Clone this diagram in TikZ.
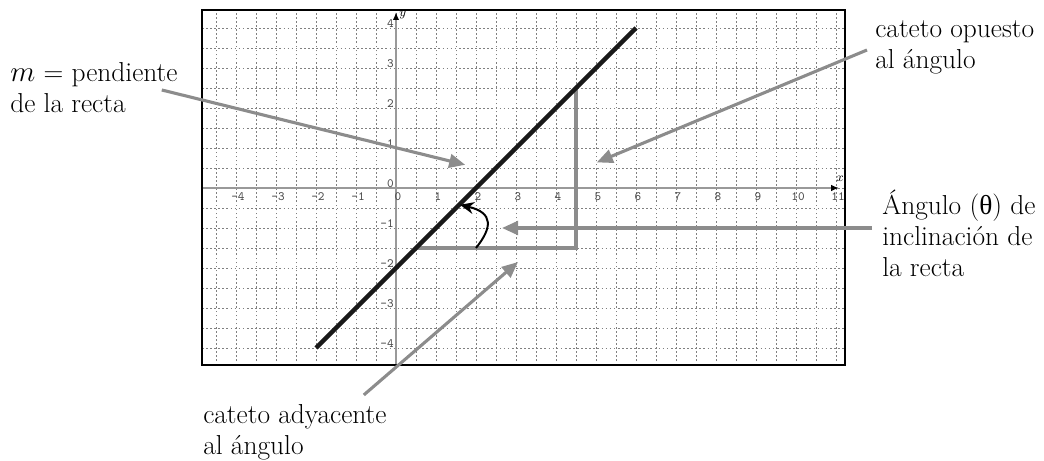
\documentclass[tikz,border=0pt]{standalone}
\usepackage{fontspec}
\newfontfamily\greekfont{Liberation Serif}
\usetikzlibrary{arrows.meta}

\begin{document}
\begin{tikzpicture}[
        griddot/.style={black!50, line width=0.55pt, dash pattern=on 1.2pt off 1.7pt},
        eje/.style={black!40, line width=1.3pt, -{Latex[black, length=2mm, width=1.6mm]}},
        cateto/.style={black!45, line width=2.2pt},
        recta/.style={black!90, line width=3.2pt},
        pointer/.style={black!45, line width=2.2pt, -{Triangle[length=4mm, width=3.4mm]}},
        callout/.style={font=\fontsize{19.5}{22}\selectfont, align=left, inner sep=0pt, anchor=west},
        ticklabel/.style={font=\fontsize{9}{9}\ttfamily, text=black!70, inner sep=0pt},
        axislabel/.style={font=\fontsize{9}{9}\selectfont, inner sep=0pt}
        ]
      \useasboundingbox (-9.9,-6.825) rectangle (16.2,4.7);
      \draw[griddot, step=0.5] (-4.85,-4.43) grid (11.22,4.45);
      \draw[eje] (-4.85,0) -- (11.08,0);
      \draw[eje] (0,-4.43) -- (0,4.4);
      \draw[black, line width=1pt] (-4.85,-4.43) rectangle (11.22,4.45);
      \foreach \k in {-4,...,11}
        \node[ticklabel] (x\k) at (\k+0.05,-0.22) {\k};
      \foreach \k in {0,...,4}
        \node[ticklabel, anchor=east] (y\k) at (-0.05,\k+0.12) {\k};
      \foreach \k in {-4,...,-1}
        \node[ticklabel, anchor=east] (y\k) at (-0.05,\k+0.1) {\k};
      \node[axislabel] (xlab) at (11.1,0.22) {$x$};
      \node[axislabel] (ylab) at (0.17,4.33) {$y$};
      \coordinate (A) at (0.5,-1.5);
      \coordinate (B) at (4.5,-1.5);
      \coordinate (C) at (4.5,2.5);
      \coordinate (L1) at (-2,-4);
      \coordinate (L2) at (6,4);
      \coordinate (arco0) at (2,-1.5);
      \coordinate (arco1) at (1.6,-0.42);
      \draw[cateto] (A) -- (B) -- (C);
      \draw[recta] (L1) -- (L2);
      \draw[black, line width=1.4pt, -{Stealth[length=3.5mm, width=3mm]}] (arco0) .. controls (2.4,-1.0) and (2.45,-0.62) .. (arco1);
      \node[callout] (pend) at (-9.65,2.5) {$m$ = pendiente\\de la recta};
      \node[callout] (opuesto) at (11.975,3.525) {cateto opuesto\\al ángulo};
      \node[callout] (angulo) at (12.15,-1.125) {Ángulo ({\greekfont θ}) de\\inclinación de\\la recta};
      \node[callout] (adyacente) at (-4.825,-6.1) {cateto adyacente\\al ángulo};
      \coordinate (pt1) at (1.73,0.58);
      \coordinate (pt2) at (5.02,0.64);
      \coordinate (pt3) at (2.65,-1.0);
      \coordinate (pt4) at (3.05,-1.85);
      \draw[pointer] ([xshift=-4mm, yshift=-0.5mm]pend.east) -- (pt1);
      \draw[pointer] ([xshift=-2mm, yshift=-0.75mm]opuesto.west) -- (pt2);
      \draw[pointer] ([xshift=-2.5mm]angulo.west |- pt3) -- (pt3);
      \draw[pointer] ([xshift=-5.75mm, yshift=2.25mm]adyacente.north east) -- (pt4);
    \end{tikzpicture}
\end{document}
